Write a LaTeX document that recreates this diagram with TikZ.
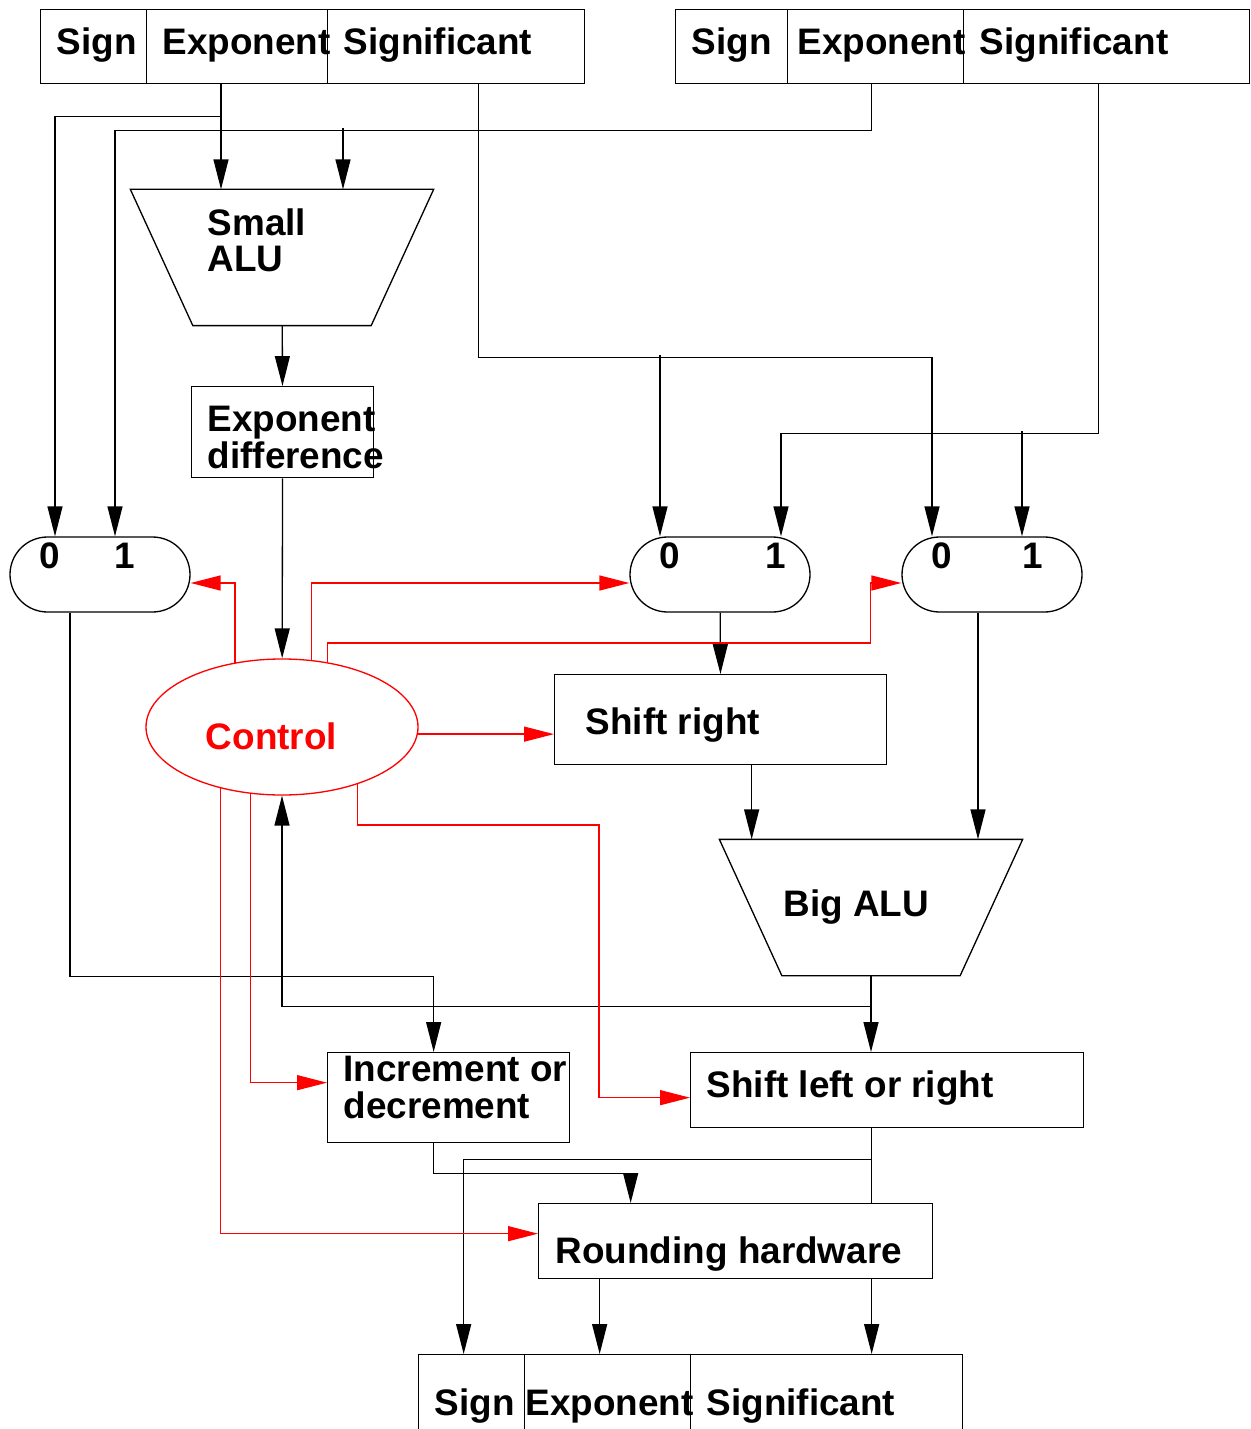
\documentclass[tikz,border=0pt]{standalone}
\usepackage{fontspec}
\setmainfont{Liberation Sans}
\usetikzlibrary{arrows.meta, shapes.geometric, shapes.misc}
\newcommand{\px}{0.02cm}
\tikzset{every node/.style={font=\fontsize{21}{21}\selectfont\bfseries}}
\tikzset{
  box/.style 2 args={draw, rectangle, anchor=north west, inner sep=0pt,
    minimum width=#1*\px, minimum height=#2*\px},
  mux/.style={draw, rounded rectangle, inner sep=0pt,
    minimum width=180*\px, minimum height=75*\px},
  alu/.style={rectangle, inner sep=0pt,
    minimum width=302*\px, minimum height=135*\px},
  txt/.style={anchor=base west, inner sep=0pt, align=left},
  sel/.style={anchor=base, inner sep=0pt},
  ctl/.style={->, ctrlcol}
}
\colorlet{ctrlcol}{red}

\begin{document}
\begin{tikzpicture}[x=\px, y=-\px, line width=0.75pt,
  >={Triangle[length=17pt, width=8.5pt]}]

  \useasboundingbox (0,0) rectangle (1250,1429);

  % Operand registers.
  \node[box={106}{74}] (regA-sign) at (40,9) {};
  \node[box={181}{74}] (regA-exp) at (146,9) {};
  \node[box={257}{74}] (regA-sig) at (327,9) {};
  \node[box={112}{74}] (regB-sign) at (675,9) {};
  \node[box={176}{74}] (regB-exp) at (787,9) {};
  \node[box={286}{74}] (regB-sig) at (963,9) {};
  \node[txt] (regA-sign-t) at (56,55) {Sign};
  \node[txt] (regA-exp-t) at (162,55) {Exponent};
  \node[txt] (regA-sig-t) at (343,55) {Significant};
  \node[txt] (regB-sign-t) at (691,55) {Sign};
  \node[txt] (regB-exp-t) at (797,55) {Exponent};
  \node[txt] (regB-sig-t) at (979,55) {Significant};

  % Result register.
  \node[box={106}{90}] (res-sign) at (418,1354) {};
  \node[box={166}{90}] (res-exp) at (524,1354) {};
  \node[box={272}{90}] (res-sig) at (690,1354) {};
  \node[txt] (res-sign-t) at (434,1415) {Sign};
  \node[txt] (res-exp-t) at (525,1415) {Exponent};
  \node[txt] (res-sig-t) at (706,1415) {Significant};

  % ALUs: trapezia drawn on invisible frames.
  \node[alu] (salu) at (282,257.5) {};
  \node[alu] (balu) at (871,907.5) {};
  \foreach \a in {salu, balu} {
    \draw (\a.north west) -- (\a.north east)
      -- ([xshift=-62.5*\px]\a.south east)
      -- ([xshift=62.5*\px]\a.south west) -- cycle;
  }
  \node[txt] (salu-t) at (207,272) {Small\\ALU};
  \node[txt] (balu-t) at (783,916) {Big ALU};

  % Datapath blocks.
  \node[box={182}{91}] (expdiff) at (191,386) {};
  \node[txt] (expdiff-t) at (207,468) {Exponent\\difference};
  \node[mux] (mux1) at (100,574.5) {};
  \node[mux] (mux2) at (720,574.5) {};
  \node[mux] (mux3) at (992,574.5) {};
  \node[sel] (mux1-zero) at (50,568) {0};
  \node[sel] (mux1-one) at (125,568) {1};
  \node[sel] (mux2-zero) at (670,568) {0};
  \node[sel] (mux2-one) at (776,568) {1};
  \node[sel] (mux3-zero) at (942,568) {0};
  \node[sel] (mux3-one) at (1033,568) {1};
  \node[draw=ctrlcol, ellipse, inner sep=0pt,
    minimum width=272*\px, minimum height=136*\px] (ctrl) at (282,727) {};
  \node[sel, text=ctrlcol] (ctrl-t) at (271.5,749) {Control};
  \node[box={332}{90}] (shr) at (554,674) {};
  \node[txt] (shr-t) at (585,734) {Shift right};
  \node[box={242}{90}] (incdec) at (327,1052) {};
  \node[txt] (incdec-t) at (343,1118) {Increment or\\decrement};
  \node[box={393}{75}] (slr) at (690,1052) {};
  \node[txt] (slr-t) at (706,1097) {Shift left or right};
  \node[box={394}{75}] (rnd) at (538,1203) {};
  \node[txt] (rnd-t) at (555,1263) {Rounding hardware};

  % Ports.
  \coordinate (expB) at ([xshift=-4*\px]regB-exp.south);
  \coordinate (sigA) at ([xshift=22.5*\px]regA-sig.south);
  \coordinate (sigB) at ([xshift=-8*\px]regB-sig.south);
  \coordinate (salu-in0) at ([xshift=-61*\px]salu.north);
  \coordinate (salu-in1) at ([xshift=61*\px]salu.north);
  \coordinate (mux1-in0) at ([xshift=-45*\px]mux1.north);
  \coordinate (mux1-in1) at ([xshift=15*\px]mux1.north);
  \coordinate (mux2-in0) at ([xshift=-60*\px]mux2.north);
  \coordinate (mux2-in1) at ([xshift=61*\px]mux2.north);
  \coordinate (mux3-in0) at ([xshift=-60*\px]mux3.north);
  \coordinate (mux3-in1) at ([xshift=30*\px]mux3.north);
  \coordinate (mux1-out) at ([xshift=-30*\px]mux1.south);
  \coordinate (mux3-out) at ([xshift=-14*\px]mux3.south);
  \coordinate (shr-out) at ([xshift=31*\px]shr.south);
  \coordinate (incdec-in) at ([xshift=-15*\px]incdec.north);
  \coordinate (incdec-out) at ([xshift=-15*\px]incdec.south);
  \coordinate (slr-out) at ([xshift=-15.5*\px]slr.south);
  \coordinate (rnd-in) at ([xshift=-105*\px]rnd.north);
  \coordinate (rnd-out) at ([xshift=-136*\px]rnd.south);
  \coordinate (res-sign-in) at ([xshift=-8*\px]res-sign.north);

  % Exponents into small ALU and left mux.
  \draw[->] (salu-in0 |- regA-exp.south) -- (salu-in0);
  \draw[->] (salu-in0 |- regA-exp.south) ++(0,32) -| (mux1-in0);
  \draw[->] (expB) -- ++(0,46) -| (mux1-in1);
  \draw[->] (salu-in1) ++(0,-61) -- (salu-in1);

  % Significands into the right muxes.
  \draw[->] (sigA) -- ++(0,273) -| (mux3-in0);
  \draw[->] (mux2-in0) ++(0,-181) -- (mux2-in0);
  \draw[->] (sigB) -- ++(0,349) -| (mux2-in1);
  \draw[->] (mux3-in1) ++(0,-105) -- (mux3-in1);

  % Exponent path.
  \draw[->] (salu) -- (expdiff);
  \draw[->] (expdiff) -- (ctrl);
  \draw[->] (mux1-out) -- ++(0,364) -| (incdec-in);

  % Significand path.
  \draw[->] (mux2) -- (shr);
  \draw[->] (mux3-out) -- (mux3-out |- balu.north);
  \draw[->] (shr-out) -- (shr-out |- balu.north);
  \draw[->] (balu.south) -- (balu.south |- slr.north);
  \draw[->] (balu.south) ++(0,31) -| (ctrl.south);

  % Normalise and round.
  \draw[->] (incdec-out) -- ++(0,30) -| (rnd-in);
  \draw (slr-out) -- (slr-out |- rnd.north);
  \draw[->] (slr-out) ++(0,31) -| (res-sign-in);
  \draw[->] (rnd-out) -- (rnd-out |- res-exp.north);
  \draw[->] (slr-out |- rnd.south) -- (slr-out |- res-sig.north);

  % Control signals.
  \draw[ctl] (ctrl.126) |- ([yshift=-8.5*\px]mux1.east);
  \draw[ctl] (ctrl.66) |- ([yshift=-8.5*\px]mux2.west);
  \draw[ctl] (ctrl.55) |- ([xshift=-31*\px, yshift=-68.5*\px]mux3.west)
    |- ([yshift=-8.5*\px]mux3.west);
  \draw[ctl] (ctrl.-3) -- (ctrl.-3 -| shr.west);
  \draw[ctl] (ctrl.-37) -- ++(0,41)
    -| ([xshift=-91*\px, yshift=-7.5*\px]slr.west) -- ([yshift=-7.5*\px]slr.west);
  \draw[ctl] (ctrl.-115) |- ([yshift=15*\px]incdec.west);
  \draw[ctl] (ctrl.-135) |- ([yshift=7.5*\px]rnd.west);

\end{tikzpicture}
\end{document}
